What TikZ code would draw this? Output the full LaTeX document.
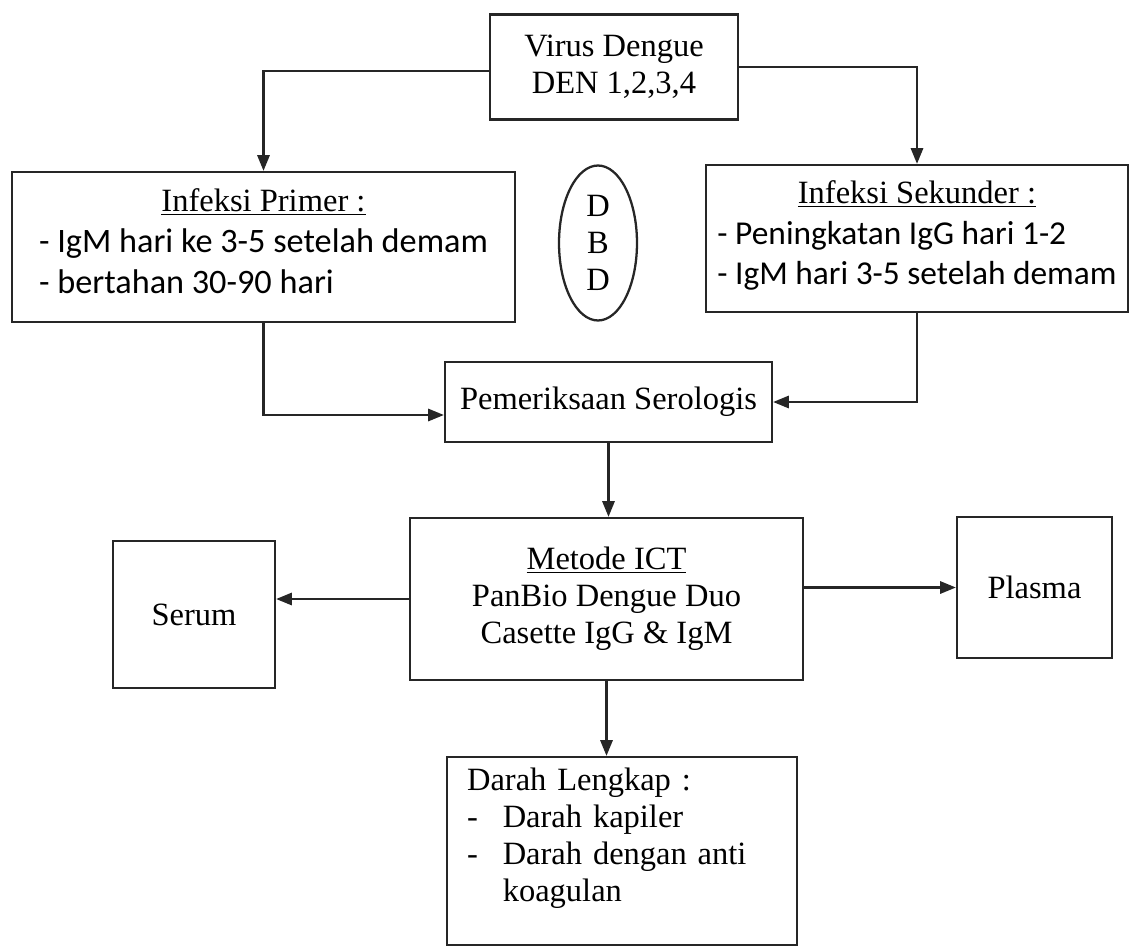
\documentclass[tikz,border=0pt]{standalone}
\usepackage{fontspec}
\setmainfont{Liberation Serif}
\newfontfamily\calibrifont{Carlito}
\usetikzlibrary{arrows.meta, positioning, shapes.geometric}

\begin{document}
\begin{tikzpicture}[
    x=0.02cm, y=-0.02cm,
    font=\fontsize{18.5}{21}\selectfont,
    >={Triangle[length=9pt, width=7pt]},
    box/.style={draw=black!85, line width=1.3pt, align=center, inner sep=0pt},
    listbox/.style={box, font=\fontsize{18.5}{23}\selectfont},
    oval/.style={ellipse, draw=black!85, line width=1.3pt, align=center, inner sep=0pt},
    arrow/.style={->, line width=1.3pt, draw=black!85}
]
\useasboundingbox (0,0) rectangle (1136,947);

% Top
\node[box, minimum width=4.96cm, minimum height=2.1cm] (virus) at (614,67) {Virus Dengue\\DEN 1,2,3,4};

% Infections
\node[listbox, minimum width=10.06cm, minimum height=3cm] (primer) at (263.5,247)
    {\underline{Infeksi Primer :}\\[4pt]
     {\calibrifont\fontsize{19.5}{23}\selectfont\begin{tabular}{@{}l@{}}- IgM hari ke 3-5 setelah demam\\- bertahan 30-90 hari\end{tabular}}};
\node[oval, minimum width=1.56cm, minimum height=3.1cm] (dbd) at (598,243) {D\\B\\D};
\node[listbox, minimum width=8.44cm, minimum height=2.94cm] (sekunder) at (917,238.5)
    {\underline{Infeksi Sekunder :}\\[4pt]
     {\calibrifont\fontsize{19}{23}\selectfont\begin{tabular}{@{}l@{}}- Peningkatan IgG hari 1-2\\- IgM hari 3-5 setelah demam\end{tabular}}};

% Middle column
\node[box, minimum width=6.54cm, minimum height=1.6cm] (serologis) at (608.5,402) {Pemeriksaan Serologis};
\node[box, minimum width=7.86cm, minimum height=3.24cm] (metode) at (606.5,599)
    {\underline{Metode ICT}\\PanBio Dengue Duo\\Casette IgG \& IgM};
\node[box, minimum width=3.24cm, minimum height=2.94cm] (serum) at (194,614.5) {Serum};
\node[box, minimum width=3.1cm, minimum height=2.82cm] (plasma) at (1034.5,587.5) {Plasma};
\node[box, align=left, text width=6.2cm, inner xsep=0.4cm, minimum height=3.76cm] (darah) at (622,851)
    {Darah Lengkap :\\
     \makebox[1.1em][l]{-}Darah kapiler\\
     \makebox[1.1em][l]{-}Darah dengan anti\\
     \hspace*{1.1em}koagulan\par\nointerlineskip\vspace{0.5cm}\null};

% Connections
\draw[arrow] ([yshift=-0.08cm]virus.west) -| (primer.north);
\draw[arrow] (virus.east) -| (sekunder.north);
\draw[arrow] (primer.south) |- ([yshift=-0.26cm]serologis.west);
\draw[arrow] (sekunder.south) |- (serologis.east);
\draw[arrow] (serologis.south) -- (serologis.south |- metode.north);
\draw[arrow] (metode.west) -- (serum.east |- metode.west);
\draw[arrow] (plasma.west -| metode.east) -- (plasma.west);
\draw[arrow] (metode.south) -- (metode.south |- darah.north);

\end{tikzpicture}
\end{document}
